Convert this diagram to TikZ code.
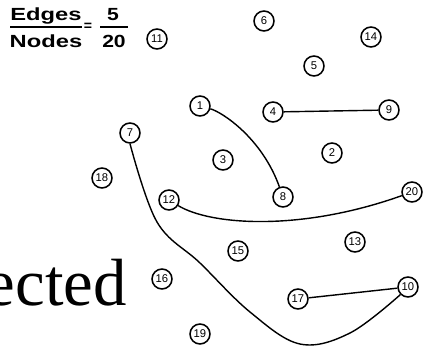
\documentclass[tikz,border=0pt]{standalone}
\usepackage{fontspec}
\setmainfont{Liberation Serif}
\setsansfont{Liberation Sans}

\begin{document}
\begin{tikzpicture}[x=0.025cm,y=-0.025cm,
    vertex/.style={draw,circle,line width=1.1pt,minimum size=14.2pt,inner sep=0pt,
      font=\sffamily\fontsize{8}{8}\selectfont},
    edge/.style={line width=1pt},
    ratio/.style={inner sep=0pt,font=\sffamily\bfseries\fontsize{12.5}{12.5}\selectfont},
    bar/.style={line width=1.5pt}]
  \useasboundingbox (0,0) rectangle (423,349);
  \clip (0,0) rectangle (423,349);

  % Ratio
  \node[ratio,anchor=base] (edges) at (46,20) {\scalebox{1.35}[1]{Edges}};
  \node[ratio,anchor=base] (nodes) at (46,47) {\scalebox{1.35}[1]{Nodes}};
  \node[ratio,font=\sffamily\bfseries\fontsize{10}{10}\selectfont] (eq) at (88,27) {=};
  \node[ratio,anchor=base] (num) at (113,20) {\scalebox{1.2}[1]{5}};
  \node[ratio,anchor=base] (den) at (114,47) {\scalebox{1.2}[1]{20}};
  \draw[bar] (10,27) -- (82,27);
  \draw[bar] (100,27) -- (128,27);

  % Vertices
  \foreach \n/\x/\y in {1/200/106, 2/332/153, 3/223/160, 4/273/112, 5/314/66,
      6/264/21, 7/130/133, 8/283/197, 9/389/110, 10/408/287,
      11/157/39, 12/169/200, 13/355/242, 14/371/37, 15/238/251,
      16/162/279, 17/298/299, 18/102/178, 19/200/334, 20/412/192}
    \node[vertex] (v\n) at (\x,\y) {\n};

  % Edges
  \draw[edge] (v4) -- (v9);
  \draw[edge] (v17) -- (v10);
  \draw[edge] (v1) .. controls (222,112) and (262,138) .. (v8);
  \draw[edge] (v12) .. controls (210,225) and (300,232) .. (v20);
  \draw[edge] plot[smooth,tension=0.6] coordinates
    {(v7.south) (157,222) (200,263) (250,312) (300,344) (350,333) (v10.south west)};

  % Word fragment
  \node[anchor=base east,inner sep=0pt,font=\fontsize{47.5}{47.5}\selectfont] (word) at (127,305) {ected};
\end{tikzpicture}
\end{document}
